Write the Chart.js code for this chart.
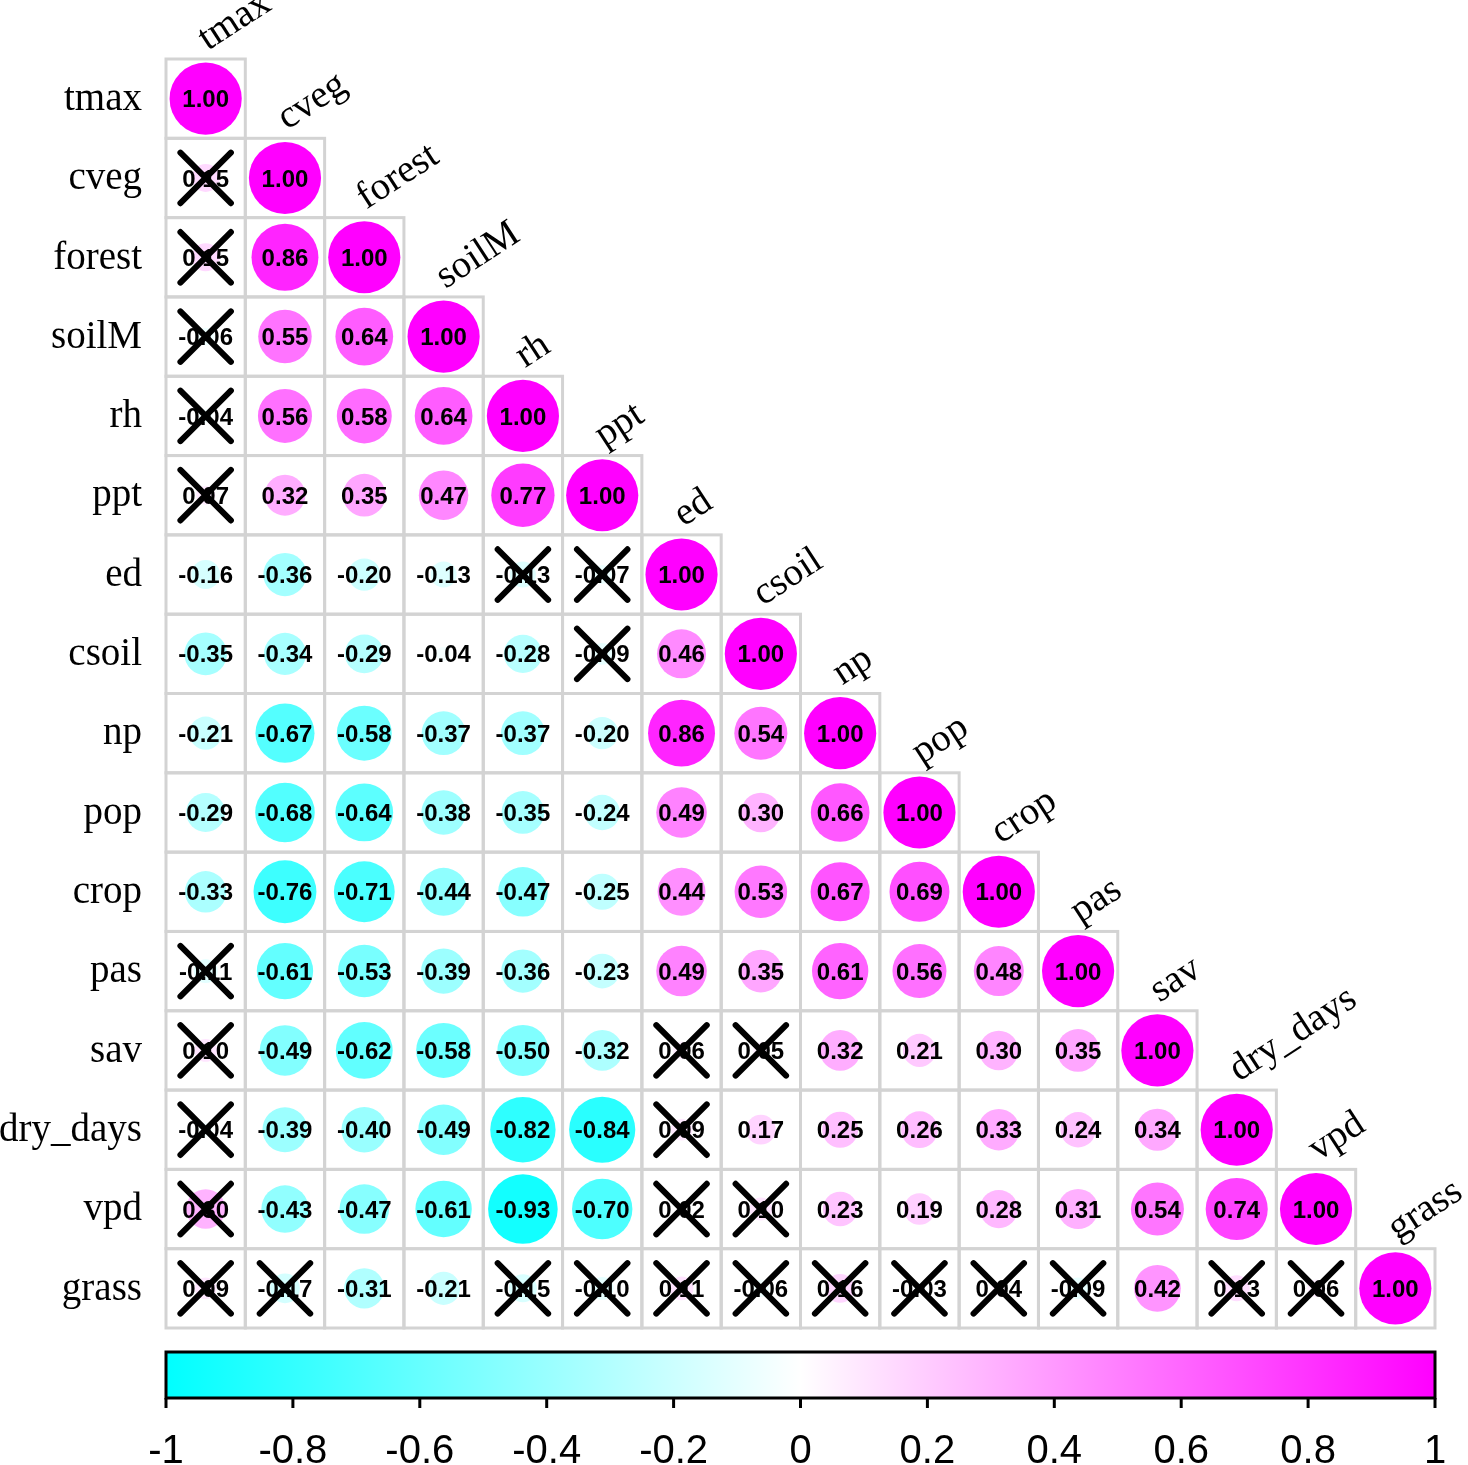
<!DOCTYPE html>
<html>
<head>
<meta charset="utf-8">
<script src="https://cdn.jsdelivr.net/npm/chart.js@4.4.1/dist/chart.umd.min.js"></script>
<style>
  html, body { margin: 0; padding: 0; background: #ffffff; overflow: hidden; }
  #corrChart { display: block; }
</style>
</head>
<body>
<canvas id="corrChart" width="1468" height="1465"></canvas>
<script>
// ---------- data (lower triangle, row by row) ----------
const vars = ["tmax", "cveg", "forest", "soilM", "rh", "ppt", "ed", "csoil",
              "np", "pop", "crop", "pas", "sav", "dry_days", "vpd", "grass"];

const corr = [
  [1.00],
  [0.15, 1.00],
  [0.15, 0.86, 1.00],
  [-0.06, 0.55, 0.64, 1.00],
  [-0.04, 0.56, 0.58, 0.64, 1.00],
  [0.07, 0.32, 0.35, 0.47, 0.77, 1.00],
  [-0.16, -0.36, -0.20, -0.13, -0.13, -0.07, 1.00],
  [-0.35, -0.34, -0.29, -0.04, -0.28, -0.09, 0.46, 1.00],
  [-0.21, -0.67, -0.58, -0.37, -0.37, -0.20, 0.86, 0.54, 1.00],
  [-0.29, -0.68, -0.64, -0.38, -0.35, -0.24, 0.49, 0.30, 0.66, 1.00],
  [-0.33, -0.76, -0.71, -0.44, -0.47, -0.25, 0.44, 0.53, 0.67, 0.69, 1.00],
  [-0.11, -0.61, -0.53, -0.39, -0.36, -0.23, 0.49, 0.35, 0.61, 0.56, 0.48, 1.00],
  [0.10, -0.49, -0.62, -0.58, -0.50, -0.32, 0.06, 0.05, 0.32, 0.21, 0.30, 0.35, 1.00],
  [-0.04, -0.39, -0.40, -0.49, -0.82, -0.84, 0.09, 0.17, 0.25, 0.26, 0.33, 0.24, 0.34, 1.00],
  [0.30, -0.43, -0.47, -0.61, -0.93, -0.70, 0.02, 0.10, 0.23, 0.19, 0.28, 0.31, 0.54, 0.74, 1.00],
  [0.09, -0.17, -0.31, -0.21, -0.15, -0.10, 0.11, -0.06, 0.16, -0.03, 0.04, -0.09, 0.42, 0.13, 0.06, 1.00]
];

// 1 = not significant (crossed out)
const insig = [
  [0],
  [1, 0],
  [1, 0, 0],
  [1, 0, 0, 0],
  [1, 0, 0, 0, 0],
  [1, 0, 0, 0, 0, 0],
  [0, 0, 0, 0, 1, 1, 0],
  [0, 0, 0, 0, 0, 1, 0, 0],
  [0, 0, 0, 0, 0, 0, 0, 0, 0],
  [0, 0, 0, 0, 0, 0, 0, 0, 0, 0],
  [0, 0, 0, 0, 0, 0, 0, 0, 0, 0, 0],
  [1, 0, 0, 0, 0, 0, 0, 0, 0, 0, 0, 0],
  [1, 0, 0, 0, 0, 0, 1, 1, 0, 0, 0, 0, 0],
  [1, 0, 0, 0, 0, 0, 1, 0, 0, 0, 0, 0, 0, 0],
  [1, 0, 0, 0, 0, 0, 1, 1, 0, 0, 0, 0, 0, 0, 0],
  [1, 1, 0, 0, 1, 1, 1, 1, 1, 1, 1, 1, 0, 1, 1, 0]
];

const colorbarTicks = [-1, -0.8, -0.6, -0.4, -0.2, 0, 0.2, 0.4, 0.6, 0.8, 1];

// ---------- helpers ----------
const N = vars.length;
const PAD = { left: 166, top: 59, right: 33, bottom: 137 };

/** cyan -> white -> magenta */
function corrColor(v) {
  if (v < 0) {
    const c = Math.round(255 * (1 + v));
    return `rgb(${c},255,255)`;
  }
  const c = Math.round(255 * (1 - v));
  return `rgb(255,${c},255)`;
}

const circlePts = [];
const crossPts  = [];
corr.forEach((row, i) => {
  row.forEach((v, j) => {
    circlePts.push({ x: j + 0.5, y: i + 0.5, v: v });
    if (insig[i][j]) crossPts.push({ x: j + 0.5, y: i + 0.5 });
  });
});

// pixel size of one cell (chartArea may not exist yet on first resolve)
function cellSize(chart) {
  const ca = chart.chartArea;
  if (ca) return (ca.right - ca.left) / N;
  return (chart.width - PAD.left - PAD.right) / N;
}

// ---------- plugin: grid, labels, numbers, colour bar ----------
const corrPlotPlugin = {
  id: "corrPlot",
  beforeDatasetsDraw(chart) {
    const { ctx, scales: { x, y } } = chart;
    const cs = cellSize(chart);
    ctx.save();
    ctx.strokeStyle = "#d3d3d3";
    ctx.lineWidth = 3;
    for (let i = 0; i < N; i++) {
      for (let j = 0; j <= i; j++) {
        ctx.strokeRect(x.getPixelForValue(j), y.getPixelForValue(i), cs, cs);
      }
    }
    ctx.restore();
    ctx.lineCap = "round";   // round ends for the cross marks
  },
  afterDatasetDraw(chart, args) {
    if (args.index !== 0) return;
    const { ctx, scales: { x, y } } = chart;
    ctx.save();
    ctx.fillStyle = "#000";
    ctx.font = "bold 24px 'Liberation Sans', Arial, sans-serif";
    ctx.textAlign = "center";
    ctx.textBaseline = "middle";
    circlePts.forEach(p => {
      ctx.fillText(p.v.toFixed(2), x.getPixelForValue(p.x), y.getPixelForValue(p.y) + 2);
    });
    ctx.restore();
  },
  afterDraw(chart) {
    const { ctx, chartArea: ca, scales: { x, y } } = chart;
    ctx.save();
    ctx.lineCap = "butt";
    ctx.fillStyle = "#000";
    ctx.font = "39px 'Liberation Serif', 'Times New Roman', serif";

    // row labels
    ctx.textAlign = "right";
    ctx.textBaseline = "middle";
    vars.forEach((name, i) => {
      ctx.fillText(name, ca.left - 24, y.getPixelForValue(i + 0.5) + 1);
    });

    // column labels (rotated, above the diagonal)
    ctx.textAlign = "left";
    ctx.textBaseline = "alphabetic";
    vars.forEach((name, j) => {
      ctx.save();
      ctx.translate(x.getPixelForValue(j + 0.5) + 2, y.getPixelForValue(j) - 8);
      ctx.rotate(-33 * Math.PI / 180);
      ctx.fillText(name, 0, 0);
      ctx.restore();
    });

    // colour bar
    const top = ca.bottom + 24, h = 46;
    const grad = ctx.createLinearGradient(ca.left, 0, ca.right, 0);
    grad.addColorStop(0, corrColor(-1));
    grad.addColorStop(0.5, corrColor(0));
    grad.addColorStop(1, corrColor(1));
    ctx.fillStyle = grad;
    ctx.fillRect(ca.left, top, ca.right - ca.left, h);
    ctx.strokeStyle = "#000";
    ctx.lineWidth = 3;
    ctx.strokeRect(ca.left, top, ca.right - ca.left, h);

    ctx.fillStyle = "#000";
    ctx.font = "40px 'Liberation Sans', Arial, sans-serif";
    ctx.textAlign = "center";
    ctx.textBaseline = "middle";
    colorbarTicks.forEach(t => {
      const px = ca.left + (t + 1) / 2 * (ca.right - ca.left);
      ctx.beginPath();
      ctx.moveTo(px, top + h);
      ctx.lineTo(px, top + h + 10);
      ctx.stroke();
      ctx.fillText(String(t), px, top + h + 54);
    });
    ctx.restore();
  }
};

// ---------- chart ----------
const ctx = document.getElementById("corrChart").getContext("2d");
new Chart(ctx, {
  type: "scatter",
  data: {
    datasets: [
      {
        label: "corr",
        data: circlePts,
        order: 1,
        pointRadius: c => 0.455 * cellSize(c.chart) * Math.sqrt(Math.abs(c.raw ? c.raw.v : 0)),
        pointBackgroundColor: c => corrColor(c.raw ? c.raw.v : 0),
        pointBorderWidth: 0,
        pointBorderColor: "rgba(0,0,0,0)"
      },
      {
        label: "insignificant",
        data: crossPts,
        order: 0,
        pointStyle: "crossRot",
        pointRadius: c => 0.45 * cellSize(c.chart),
        pointBorderColor: "#000",
        pointBorderWidth: 6
      }
    ]
  },
  options: {
    responsive: false,
    animation: false,
    events: [],
    layout: { padding: PAD, autoPadding: false },
    scales: {
      x: { type: "linear", min: 0, max: N, display: false },
      y: { type: "linear", min: 0, max: N, reverse: true, display: false }
    },
    plugins: {
      legend: { display: false },
      tooltip: { enabled: false }
    }
  },
  plugins: [corrPlotPlugin]
});
</script>
</body>
</html>
